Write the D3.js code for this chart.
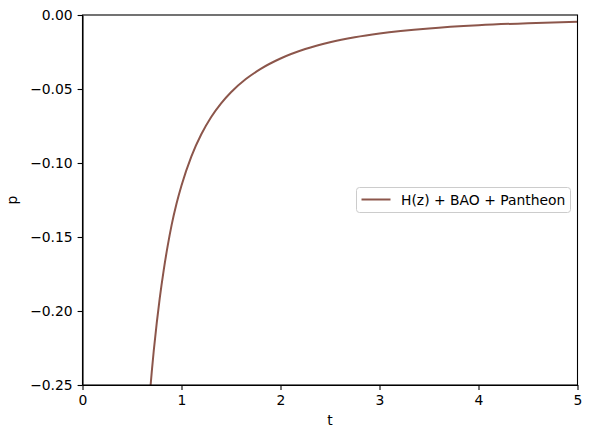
<!DOCTYPE html>
<html>
<head>
<meta charset="utf-8">
<script src="https://cdn.jsdelivr.net/npm/d3@7"></script>
<style>
  body { margin: 0; background: #fff; }
  svg text { font-family: "DejaVu Sans", sans-serif; fill: #000; }
  .axis text { font-size: 13.9px; }
  .axis path, .axis line { stroke: #000; stroke-width: 1.1px; }
</style>
</head>
<body>
<div id="chart"></div>
<script>
// values
const tValues = [0.68, 0.7, 0.72, 0.75, 0.78, 0.82, 0.86, 0.9, 0.95, 1.0, 1.1, 1.2, 1.3,
  1.4, 1.5, 1.65, 1.8, 2.0, 2.25, 2.5, 2.75, 3.0, 3.5, 4.0, 4.5, 5.0];
const pValues = [-0.2563, -0.2408, -0.2267, -0.208, -0.1915, -0.1725, -0.1562, -0.142,
  -0.1274, -0.1152, -0.0955, -0.0806, -0.0689, -0.0597, -0.0522, -0.0433, -0.0364,
  -0.0294, -0.023, -0.0184, -0.015, -0.01244, -0.00906, -0.00694, -0.00553, -0.00456];
const xTicks = [0, 1, 2, 3, 4, 5];
const yTicks = [-0.25, -0.2, -0.15, -0.1, -0.05, 0];
const seriesName = "H(z) + BAO + Pantheon";

const width = 592;
const height = 438;
const margin = { top: 15, right: 14.5, bottom: 53, left: 82.5 };
const chartWidth = width - margin.left - margin.right;
const chartHeight = height - margin.top - margin.bottom;

const data = tValues.map((t, i) => ({ t: t, p: pValues[i] }));

const svg = d3
  .select("#chart")
  .append("svg")
  .attr("width", width)
  .attr("height", height);

svg.append("rect").attr("width", width).attr("height", height).attr("fill", "#fff");

const g = svg.append("g").attr("transform", `translate(${margin.left},${margin.top})`);

const xScale = d3.scaleLinear().domain([0, 5]).range([0, chartWidth]);
const yScale = d3.scaleLinear().domain([-0.25, 0]).range([chartHeight, 0]);

// clip so the curve stays inside the axes
g.append("clipPath")
  .attr("id", "clip")
  .append("rect")
  .attr("width", chartWidth)
  .attr("height", chartHeight);

const line = d3
  .line()
  .x((d) => xScale(d.t))
  .y((d) => yScale(d.p))
  .curve(d3.curveMonotoneX);

g.append("path")
  .datum(data)
  .attr("clip-path", "url(#clip)")
  .attr("fill", "none")
  .attr("stroke", "#8c564b")
  .attr("stroke-width", 2)
  .attr("d", line);

g.append("g")
  .attr("class", "axis")
  .attr("transform", `translate(0,${chartHeight})`)
  .call(d3.axisBottom(xScale).tickValues(xTicks).tickFormat(d3.format("d"))
    .tickSizeInner(4.9).tickSizeOuter(0).tickPadding(4.9));

g.append("g")
  .attr("class", "axis")
  .call(d3.axisLeft(yScale).tickValues(yTicks).tickFormat(d3.format(".2f"))
    .tickSizeInner(4.9).tickSizeOuter(0).tickPadding(4.9));

// frame (top and right spines)
g.append("rect")
  .attr("width", chartWidth)
  .attr("height", chartHeight)
  .attr("fill", "none")
  .attr("stroke", "#000")
  .attr("stroke-width", 1.1);

g.append("text")
  .attr("x", chartWidth / 2)
  .attr("y", chartHeight + 40)
  .attr("text-anchor", "middle")
  .style("font-size", "13.9px")
  .text("t");

g.append("text")
  .attr("transform", `translate(${17 - margin.left},${chartHeight / 2}) rotate(-90)`)
  .attr("text-anchor", "middle")
  .style("font-size", "13.9px")
  .text("p");

// legend
const legend = svg.append("g").attr("transform", "translate(356.5,187.5)");

legend
  .append("rect")
  .attr("width", 214)
  .attr("height", 25)
  .attr("rx", 3)
  .attr("fill", "#fff")
  .attr("fill-opacity", 0.8)
  .attr("stroke", "#cccccc")
  .attr("stroke-width", 1);

legend
  .append("line")
  .attr("x1", 5)
  .attr("x2", 34)
  .attr("y1", 12)
  .attr("y2", 12)
  .attr("stroke", "#8c564b")
  .attr("stroke-width", 2);

legend
  .append("text")
  .attr("x", 44.5)
  .attr("y", 17)
  .style("font-size", "13.9px")
  .text(seriesName);
</script>
</body>
</html>
